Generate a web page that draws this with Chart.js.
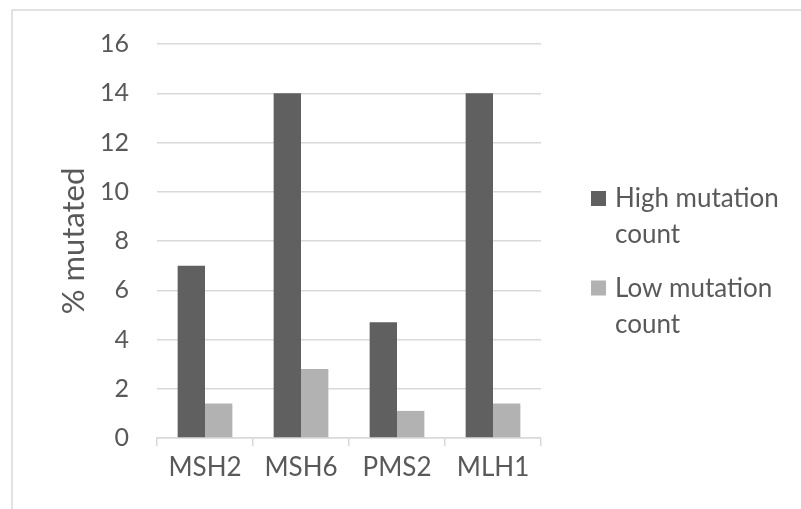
<!DOCTYPE html>
<html>
<head>
<meta charset="utf-8">
<script src="https://cdn.jsdelivr.net/npm/chart.js@4/dist/chart.umd.min.js"></script>
<style>
  html, body { margin: 0; padding: 0; background: #fff; }
  #wrap { width: 801px; height: 509px; }
</style>
</head>
<body>
<div id="wrap"><canvas id="chart"></canvas></div>
<script>
const genes = ['MSH2', 'MSH6', 'PMS2', 'MLH1']
const highCount = [7, 14, 4.7, 14]
const lowCount = [1.4, 2.8, 1.1, 1.4]
const seriesNames = [['High mutation', 'count'], ['Low mutation', 'count']]
const seriesColors = ['#606060', '#b2b2b2']
const yMax = 16
const yStep = 2

const textColor = '#595959'
const lineColor = '#d9d9d9'
const fontFamily = 'Lato, "Open Sans", sans-serif'

// frame round the whole chart, as in the exported office chart
const framePlugin = {
  id: 'frame',
  beforeDraw(chart) {
    let { ctx } = chart
    ctx.save()
    ctx.strokeStyle = lineColor
    ctx.lineWidth = 1.5
    ctx.strokeRect(12, 10, chart.width + 20, chart.height + 20)
    ctx.restore()
  }
}

// legend with wrapped labels, drawn beside the plot area
const wrapLegendPlugin = {
  id: 'wrapLegend',
  afterDraw(chart) {
    let { ctx, chartArea } = chart
    let x = chartArea.right + 50
    let y = 191
    ctx.save()
    ctx.font = '26px ' + fontFamily
    ctx.textBaseline = 'alphabetic'
    chart.data.datasets.forEach((ds, i) => {
      let lines = seriesNames[i]
      ctx.fillStyle = ds.backgroundColor
      ctx.fillRect(x, y, 15, 15)
      ctx.fillStyle = textColor
      lines.forEach((line, j) => ctx.fillText(line, x + 24, y + 16 + j * 36))
      y += 89.5
    })
    ctx.restore()
  }
}

new Chart(document.getElementById('chart'), {
  type: 'bar',
  data: {
    labels: genes,
    datasets: [
      { label: seriesNames[0].join(' '), data: highCount, backgroundColor: seriesColors[0] },
      { label: seriesNames[1].join(' '), data: lowCount, backgroundColor: seriesColors[1] }
    ]
  },
  options: {
    responsive: true,
    maintainAspectRatio: false,
    animation: false,
    categoryPercentage: 0.57,
    barPercentage: 1,
    layout: { padding: { top: 44, right: 260, left: 0, bottom: 0 } },
    plugins: {
      legend: { display: false },
      tooltip: { enabled: false }
    },
    scales: {
      x: {
        grid: {
          offset: true,
          drawOnChartArea: false,
          drawTicks: true,
          tickLength: 8,
          color: lineColor,
          lineWidth: 1.5
        },
        border: { color: lineColor, width: 1.5 },
        ticks: { color: textColor, padding: 6, font: { family: fontFamily, size: 26 } },
        afterFit(scale) { scale.height = 71 }
      },
      y: {
        min: 0,
        max: yMax,
        grid: { color: lineColor, lineWidth: 1.5, drawTicks: false },
        border: { display: false },
        ticks: {
          stepSize: yStep,
          color: textColor,
          padding: 28,
          font: { family: fontFamily, size: 25 }
        },
        title: {
          display: true,
          text: '% mutated',
          color: textColor,
          padding: { top: 55, bottom: 0 },
          font: { family: fontFamily, size: 31 }
        },
        afterFit(scale) { scale.width = 157 }
      }
    }
  },
  plugins: [framePlugin, wrapLegendPlugin]
})
</script>
</body>
</html>
